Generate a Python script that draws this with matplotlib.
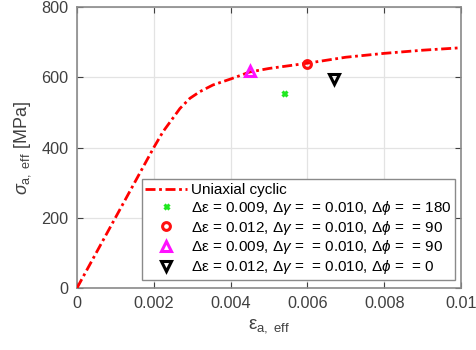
import matplotlib.pyplot as plt
import numpy as np

plt.rcParams['font.family'] = ['Liberation Sans', 'DejaVu Sans']
plt.rcParams['mathtext.fontset'] = 'custom'
plt.rcParams['mathtext.rm'] = 'Liberation Sans'
plt.rcParams['mathtext.it'] = 'Liberation Sans:italic'
plt.rcParams['mathtext.bf'] = 'Liberation Sans:bold'

# uniaxial cyclic stress-strain curve
curve_eps = [0, 0.0010, 0.0017, 0.0020, 0.00224, 0.00246, 0.00268, 0.00294,
             0.0032, 0.00354, 0.0040, 0.0045, 0.0050, 0.0060, 0.0070,
             0.0080, 0.0090, 0.0100]
curve_sig = [0, 200, 340, 400, 445, 478, 511, 540,
             559, 578, 595, 615, 625, 640, 657,
             668, 677, 684]

# multiaxial test points (effective strain amplitude, effective stress amplitude)
test_eps = [0.0054, 0.0060, 0.0045, 0.0067]
test_sig = [556, 638, 619, 594]
test_labels = [
    r'Δε = 0.009, $\Delta\gamma$ =  = 0.010, $\Delta\phi$ =  = 180',
    r'Δε = 0.012, $\Delta\gamma$ =  = 0.010, $\Delta\phi$ =  = 90',
    r'Δε = 0.009, $\Delta\gamma$ =  = 0.010, $\Delta\phi$ =  = 90',
    r'Δε = 0.012, $\Delta\gamma$ =  = 0.010, $\Delta\phi$ =  = 0',
]
test_styles = [
    dict(marker='x', color='#1fe81f', ms=3.6, mew=2.2),
    dict(marker='o', color='#ff1010', ms=5.6, mew=2.2, mfc='none'),
    dict(marker='^', color='#ff10ff', ms=6.6, mew=2.2, mfc='none'),
    dict(marker='v', color='black', ms=6.6, mew=2.2, mfc='none'),
]

axc = '#404040'
fig = plt.figure(figsize=(4.76, 3.5), dpi=100)
ax = fig.add_axes([77 / 476, 62 / 350, 384 / 476, 281 / 350])

ax.plot(curve_eps, curve_sig, color='red', lw=2,
        linestyle=(0, (3.6, 1.3, 1.0, 1.3)), label='Uniaxial cyclic', zorder=3)
for e, s, lab, st in zip(test_eps, test_sig, test_labels, test_styles):
    ax.plot([e], [s], linestyle='none', label=lab, zorder=4, **st)

ax.set_xlim(0, 0.01)
ax.set_ylim(0, 800)
ax.set_xticks(np.arange(0, 0.0101, 0.002))
ax.set_xticklabels(['0', '0.002', '0.004', '0.006', '0.008', '0.01'])
ax.set_yticks([0, 200, 400, 600, 800])
ax.grid(True, color='#e3e3e3', lw=0.9)
ax.set_axisbelow(True)
ax.tick_params(direction='in', length=4, width=0.8, color=axc, labelcolor=axc,
               labelsize=11.7, top=True, right=True, pad=6)
for sp in ax.spines.values():
    sp.set_color('#8a8a8a')
    sp.set_linewidth(1.2)

ax.set_xlabel(r'ε$_{\mathrm{a,\ eff}}$', fontsize=13.5, color=axc, labelpad=4)
ax.set_ylabel(r'$\sigma_{\mathrm{a,\ eff}}$ [MPa]', fontsize=13, color=axc, labelpad=6)

leg = ax.legend(loc='lower right', bbox_to_anchor=(0.984, 0.028), borderaxespad=0,
                fontsize=11.0, frameon=True, fancybox=False, framealpha=1,
                edgecolor='#8a8a8a', handlelength=2.75, handletextpad=0.2,
                labelspacing=0.12, borderpad=0.25, numpoints=1)
leg.get_frame().set_linewidth(1.0)
for t in leg.get_texts():
    t.set_color('black')

fig.savefig('out.png', dpi=100)
